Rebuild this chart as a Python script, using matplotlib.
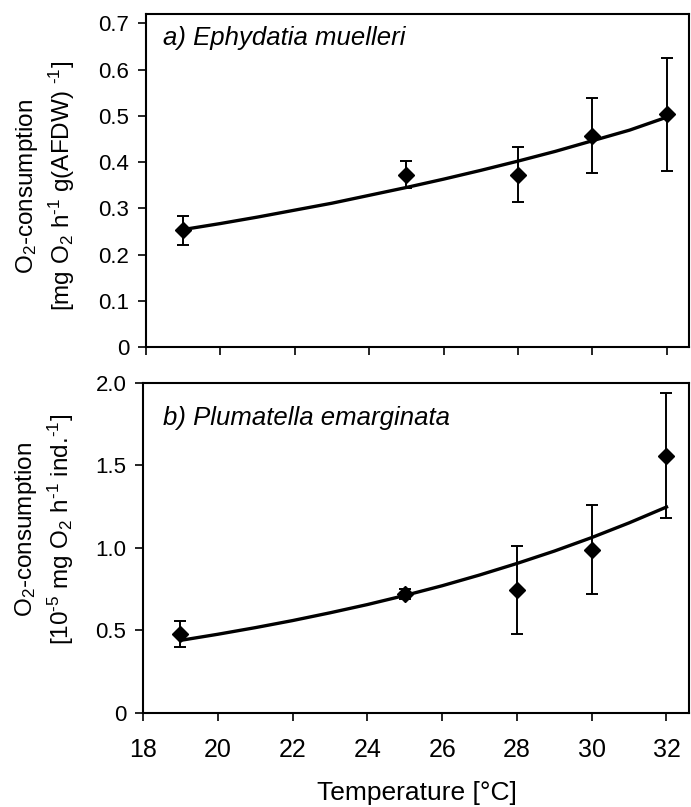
import numpy as np
import matplotlib
matplotlib.use('Agg')
import matplotlib.pyplot as plt

plt.rcParams['font.family'] = ['Liberation Sans', 'DejaVu Sans']
plt.rcParams['mathtext.fontset'] = 'custom'
plt.rcParams['mathtext.rm'] = 'Liberation Sans'
plt.rcParams['mathtext.it'] = 'Liberation Sans:italic'
plt.rcParams['mathtext.default'] = 'regular'

# measured points (temperature, mean, error)
temp = [19, 25, 28, 30, 32]
eph_mean = [0.252, 0.373, 0.373, 0.457, 0.503]
eph_err = [0.031, 0.030, 0.059, 0.081, 0.122]
plu_mean = [0.48, 0.72, 0.745, 0.99, 1.56]
plu_err = [0.08, 0.03, 0.265, 0.27, 0.38]

# fitted curves, read at integer temperatures
fit_temp = [19, 20, 21, 22, 23, 24, 25, 26, 27, 28, 29, 30, 31, 32]
eph_fit = [0.254, 0.267, 0.281, 0.296, 0.311, 0.328, 0.345, 0.363, 0.382,
           0.402, 0.423, 0.446, 0.469, 0.497]
plu_fit = [0.44, 0.477, 0.517, 0.560, 0.607, 0.657, 0.712, 0.771, 0.836,
           0.906, 0.981, 1.063, 1.152, 1.248]

xticks = [18, 20, 22, 24, 26, 28, 30, 32]

fig = plt.figure(figsize=(6.91, 8.07), dpi=100)
ax1 = fig.add_axes([0.2113, 0.570, 0.786, 0.4126])
ax2 = fig.add_axes([0.207, 0.1165, 0.790, 0.409])


def style(ax):
    for s in ax.spines.values():
        s.set_linewidth(1.5)
    ax.tick_params(direction='out', length=6, width=1.2, labelsize=16)
    ax.tick_params(axis='y', pad=6)
    ax.set_xlim(18, 32.6)
    ax.set_xticks(xticks)


# panel a
ax1.plot(fit_temp, eph_fit, color='black', lw=2.4, zorder=2)
ax1.errorbar(temp, eph_mean, yerr=eph_err, fmt='D', color='black', ms=8,
             ecolor='black', elinewidth=1.4, capsize=4, capthick=1.4, zorder=3)
style(ax1)
ax1.set_ylim(0, 0.72)
ax1.set_yticks([0, 0.1, 0.2, 0.3, 0.4, 0.5, 0.6, 0.7])
ax1.set_yticklabels(['0', '0.1', '0.2', '0.3', '0.4', '0.5', '0.6', '0.7'])
ax1.set_xticklabels([])
ax1.text(0.031, 0.928, 'a) Ephydatia muelleri', transform=ax1.transAxes,
         fontsize=18.5, style='italic', ha='left', va='center')
fig.text(0.066, 0.7695,
         'O$_2$-consumption\n[mg O$_2$ h$^{\\text{-}1}$ g(AFDW) $^{\\text{-}1}$]',
         fontsize=17.5, linespacing=1.3, rotation=90, ha='center', va='center')

# panel b
ax2.plot(fit_temp, plu_fit, color='black', lw=2.4, zorder=2)
ax2.errorbar(temp, plu_mean, yerr=plu_err, fmt='D', color='black', ms=8,
             ecolor='black', elinewidth=1.4, capsize=4, capthick=1.4, zorder=3)
style(ax2)
ax2.set_ylim(0, 2.0)
ax2.set_yticks([0, 0.5, 1.0, 1.5, 2.0])
ax2.set_yticklabels(['0', '0.5', '1.0', '1.5', '2.0'])
ax2.tick_params(axis='x', labelsize=18, pad=12)
ax2.text(0.037, 0.894, 'b) Plumatella emarginata', transform=ax2.transAxes,
         fontsize=18.5, style='italic', ha='left', va='center')
fig.text(0.065, 0.3445,
         'O$_2$-consumption\n[10$^{\\text{-}5}$ mg O$_2$ h$^{\\text{-}1}$ ind.$^{\\text{-}1}$]',
         fontsize=17.5, linespacing=1.3, rotation=90, ha='center', va='center')
fig.text(0.603, 0.0173, 'Temperature [°C]', fontsize=19, ha='center', va='center')

fig.savefig('out.png', dpi=100)
